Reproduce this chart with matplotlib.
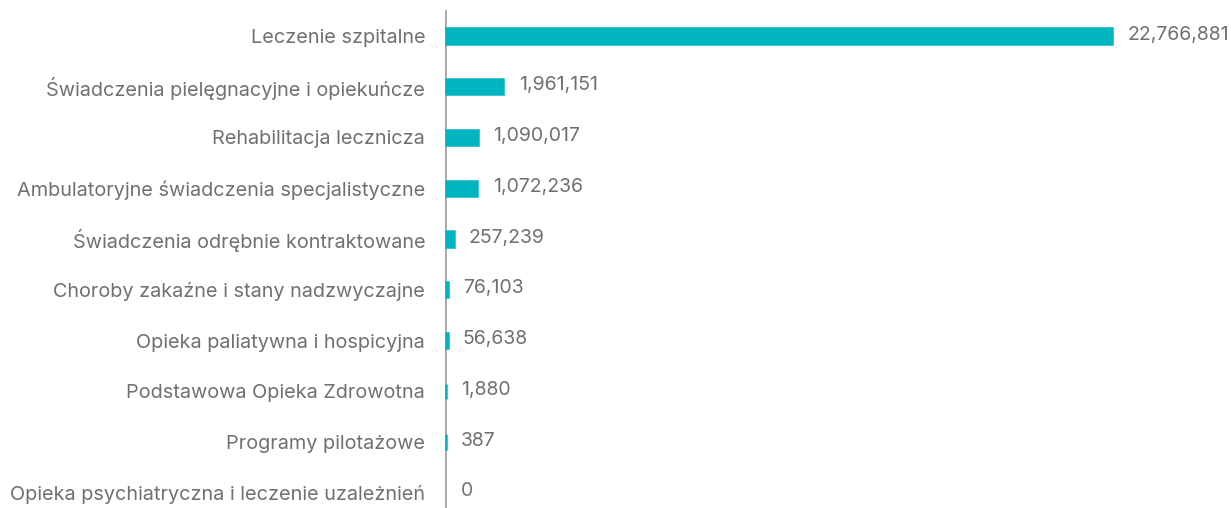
import matplotlib
matplotlib.use("Agg")
import matplotlib.pyplot as plt

categories = [
    "Leczenie szpitalne",
    "Świadczenia pielęgnacyjne i opiekuńcze",
    "Rehabilitacja lecznicza",
    "Ambulatoryjne świadczenia specjalistyczne",
    "Świadczenia odrębnie kontraktowane",
    "Choroby zakaźne i stany nadzwyczajne",
    "Opieka paliatywna i hospicyjna",
    "Podstawowa Opieka Zdrowotna",
    "Programy pilotażowe",
    "Opieka psychiatryczna i leczenie uzależnień",
]
values = [22766881, 1961151, 1090017, 1072236, 257239, 76103, 56638, 1880, 387, 0]

BAR = "#00b5c0"
TEXT = "#707070"

plt.rcParams["font.family"] = ["Inter", "DejaVu Sans"]

fig = plt.figure(figsize=(12.31, 5.08), dpi=100)
W, H = 1231, 508
ax = fig.add_axes([446 / W, 0, (1112 - 446) / W, (508 - 10.6) / H])

y = list(range(len(categories)))
# outline keeps the tiny non-zero bars visible next to the axis line
for yi, v in zip(y, values):
    bars = ax.barh(yi, v, height=0.30, color=BAR,
                   edgecolor=BAR if v > 0 else "none", linewidth=1.8, zorder=3)
    for b in bars:
        b.set_clip_on(False)
    ax.annotate(f"{v:,}", xy=(v, yi), xytext=(11, 1),
                textcoords="offset points", va="center", ha="left",
                fontsize=14, color=TEXT, annotation_clip=False)

ax.set_xlim(0, max(values))
ax.set_ylim(9.3, -0.5)
ax.set_yticks(y)
ax.set_yticklabels(categories, fontsize=14.3, color=TEXT)
ax.tick_params(axis="y", length=0, pad=15)
ax.set_xticks([])

for side in ("top", "right", "bottom"):
    ax.spines[side].set_visible(False)
ax.spines["left"].set_color("#999999")
ax.spines["left"].set_linewidth(1.2)

fig.savefig("out.png", dpi=100)
